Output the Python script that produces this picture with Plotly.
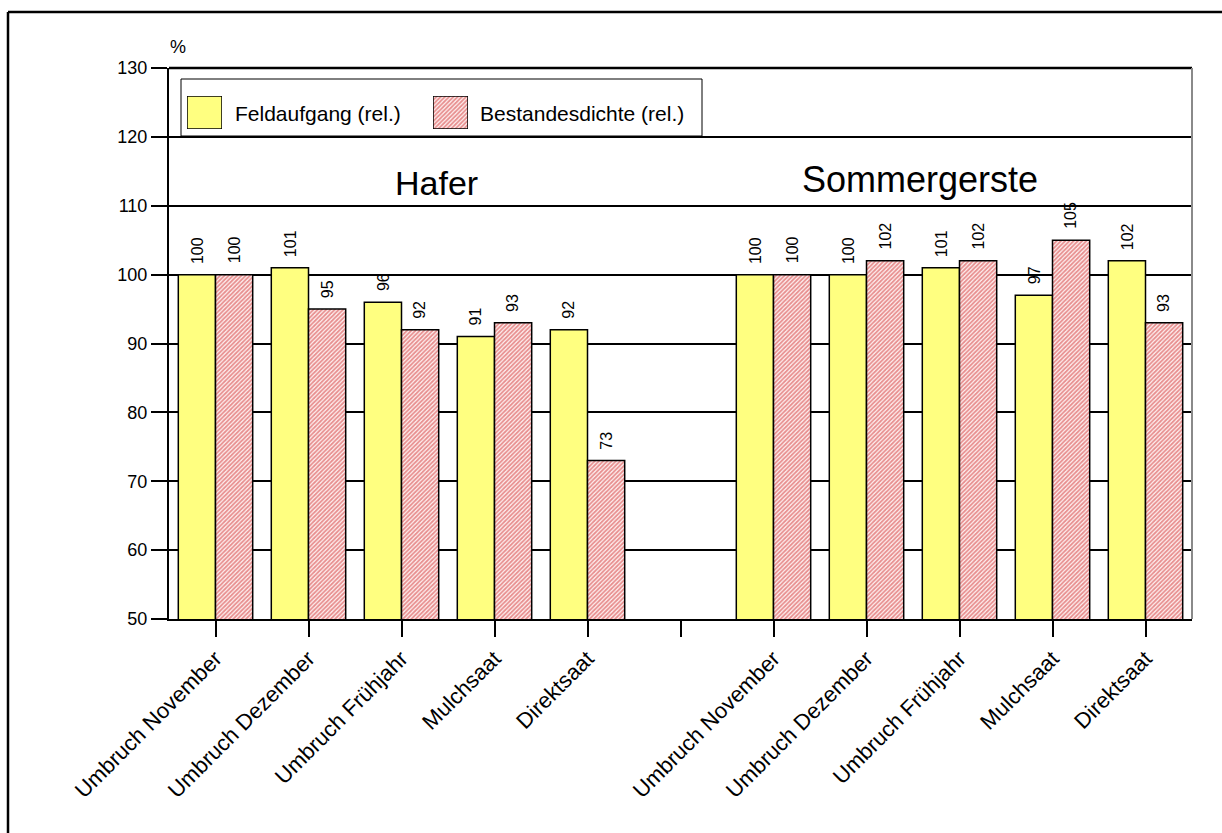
import plotly.graph_objects as go

# Categories: two crop blocks separated by an empty slot
categories = [
    "Umbruch November", "Umbruch Dezember", "Umbruch Frühjahr", "Mulchsaat", "Direktsaat",
    "",
    "Umbruch November", "Umbruch Dezember", "Umbruch Frühjahr", "Mulchsaat", "Direktsaat",
]
feldaufgang = [100, 101, 96, 91, 92, None, 100, 100, 101, 97, 102]
bestandesdichte = [100, 95, 92, 93, 73, None, 100, 102, 102, 105, 93]
y_ticks = [50, 60, 70, 80, 90, 100, 110, 120, 130]
series_names = ["Feldaufgang (rel.)", "Bestandesdichte (rel.)"]
crop_titles = ["Hafer", "Sommergerste"]

W, H = 1222, 833
L, R, T, B = 169, 1192, 68, 619  # plot area in pixels


def px(x):
    return (x - L) / (R - L)


def py(y):
    return (B - y) / (B - T)


FONT = "Liberation Sans, Arial, sans-serif"
YELLOW = "#FFFF80"
HATCH = dict(shape="/", fgcolor="#D02828", bgcolor="#FFF4F4", size=3, solidity=0.6)
OUTLINE = dict(color="#000000", width=1.5)

xs = list(range(len(categories)))
bar_off = 0.2  # half of one bar's width in category units (bargap 0.2, two bars)

fig = go.Figure()
fig.add_trace(go.Bar(
    x=xs, y=feldaufgang, name=series_names[0],
    marker=dict(color=YELLOW, line=OUTLINE), showlegend=False,
))
fig.add_trace(go.Bar(
    x=xs, y=bestandesdichte, name=series_names[1],
    marker=dict(color="#FFFFFF", pattern=HATCH, line=OUTLINE), showlegend=False,
))

# Value labels above each bar, rotated
annotations = []
for i, (a, b) in enumerate(zip(feldaufgang, bestandesdichte)):
    for off, v in ((-bar_off, a), (bar_off, b)):
        if v is None:
            continue
        annotations.append(dict(
            x=i + off, y=v, xref="x", yref="y", text=str(v), textangle=-90,
            xanchor="center", yanchor="bottom", yshift=9, showarrow=False,
            font=dict(family=FONT, size=16, color="#000000"),
        ))

# Legend swatches drawn as one-bar subplots so the hatch pattern shows
sw_y = [py(129), py(96)]
fig.add_trace(go.Bar(x=[0], y=[1], width=[1], xaxis="x2", yaxis="y2",
                     marker=dict(color=YELLOW, line=OUTLINE),
                     showlegend=False, hoverinfo="skip"))
fig.add_trace(go.Bar(x=[0], y=[1], width=[1], xaxis="x3", yaxis="y3",
                     marker=dict(color="#FFFFFF", pattern=HATCH, line=OUTLINE),
                     showlegend=False, hoverinfo="skip"))

annotations += [
    dict(text="%", xref="paper", yref="paper", x=px(168), y=py(47),
         xanchor="left", yanchor="middle", showarrow=False, font=dict(size=18)),
    dict(text=series_names[0], xref="paper", yref="paper", x=px(233), y=py(113),
         xanchor="left", yanchor="middle", showarrow=False, font=dict(size=21)),
    dict(text=series_names[1], xref="paper", yref="paper", x=px(478), y=py(113),
         xanchor="left", yanchor="middle", showarrow=False, font=dict(size=21)),
    dict(text=crop_titles[0], xref="paper", yref="paper", x=px(436), y=py(183),
         xanchor="center", yanchor="middle", showarrow=False, font=dict(size=34)),
    dict(text=crop_titles[1], xref="paper", yref="paper", x=px(920), y=py(180),
         xanchor="center", yanchor="middle", showarrow=False, font=dict(size=36)),
]

hidden = dict(visible=False, fixedrange=True)
fig.update_layout(
    width=W, height=H,
    margin=dict(l=L, r=W - R, t=T, b=H - B),
    paper_bgcolor="#FFFFFF", plot_bgcolor="#FFFFFF",
    barmode="group", bargap=0.2, bargroupgap=0,
    font=dict(family=FONT, color="#000000", size=18),
    xaxis=dict(
        range=[-0.5, len(categories) - 0.5],
        tickmode="array", tickvals=xs, ticktext=categories,
        tickangle=-45, ticks="outside", ticklen=16, tickwidth=2, tickcolor="#000000",
        tickfont=dict(family=FONT, size=22),
        showline=True, linecolor="#000000", linewidth=2,
        showgrid=False, zeroline=False,
    ),
    yaxis=dict(
        range=[50, 130], tickmode="array", tickvals=y_ticks,
        ticks="outside", ticklen=16, tickwidth=1.5, tickcolor="#000000",
        tickfont=dict(family=FONT, size=18),
        showline=True, linecolor="#000000", linewidth=2,
        showgrid=True, gridcolor="#000000", gridwidth=1.5,
        zeroline=False,
    ),
    xaxis2=dict(domain=[px(187), px(222)], range=[-0.5, 0.5], anchor="y2", **hidden),
    yaxis2=dict(domain=sw_y, range=[0, 1], anchor="x2", **hidden),
    xaxis3=dict(domain=[px(433), px(468)], range=[-0.5, 0.5], anchor="y3", **hidden),
    yaxis3=dict(domain=sw_y, range=[0, 1], anchor="x3", **hidden),
    shapes=[
        # top edge of plot area
        dict(type="line", xref="paper", yref="paper", x0=0, x1=1, y0=1, y1=1,
             line=dict(color="#000000", width=2.5)),
        # right edge of plot area
        dict(type="line", xref="paper", yref="paper", x0=1, x1=1, y0=0, y1=1,
             line=dict(color="#8a8a8a", width=2)),
        # legend box
        dict(type="rect", xref="paper", yref="paper",
             x0=px(181), x1=px(702), y0=py(136), y1=py(79),
             line=dict(color="#000000", width=1), fillcolor="#FFFFFF", layer="below"),
        # outer frame (left and top edges)
        dict(type="line", xref="paper", yref="paper", x0=px(8), x1=px(8), y0=py(12), y1=py(845),
             line=dict(color="#000000", width=2.5)),
        dict(type="line", xref="paper", yref="paper", x0=px(8), x1=px(1230), y0=py(12), y1=py(12),
             line=dict(color="#000000", width=2.5)),
    ],
    annotations=annotations,
)

fig.write_html("out.html")
